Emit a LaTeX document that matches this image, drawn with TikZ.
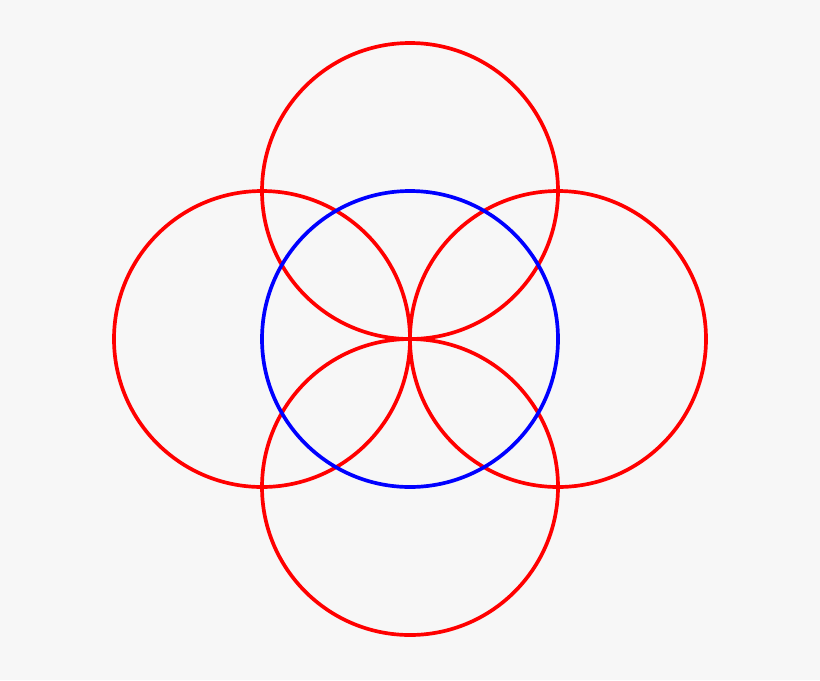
\documentclass[tikz,border=0pt]{standalone}
\usepackage{xcolor}
\definecolor{bggray}{HTML}{F7F7F7}

\begin{document}
\begin{tikzpicture}[x=0.02cm,y=-0.02cm,line width=2.1pt]
\tikzstyle{outer circle} = [draw=red]
\tikzstyle{inner circle} = [draw=blue]

% background and bounding box
\fill[bggray] (0,0) rectangle (820,680);
\useasboundingbox (0,0) rectangle (820,680);

\coordinate (middle) at (410,339);
\coordinate (top) at (410,191);
\coordinate (left) at (262,339);
\coordinate (right) at (558,339);
\coordinate (bottom) at (410,487);

% the four red circles
\foreach \c in {top,left,right,bottom}
  \draw[outer circle] (\c) circle (148);

% the blue one
\draw[inner circle] (middle) circle (148);

\end{tikzpicture}
\end{document}
